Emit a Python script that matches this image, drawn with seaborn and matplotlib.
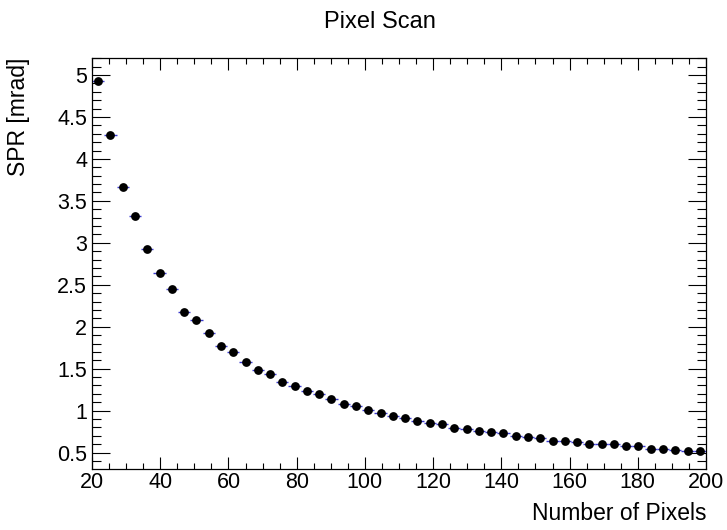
import matplotlib
matplotlib.use("Agg")
import matplotlib.pyplot as plt
import seaborn as sns
import pandas as pd
from matplotlib.ticker import MultipleLocator, FuncFormatter

# ---- data ----
n_pixels = [21.8, 25.4, 29.0, 32.6, 36.2, 39.8, 43.4, 47.0, 50.6, 54.2,
            57.8, 61.4, 65.0, 68.6, 72.2, 75.8, 79.4, 83.0, 86.6, 90.2,
            93.8, 97.4, 101.0, 104.6, 108.2, 111.8, 115.4, 119.0, 122.6, 126.2,
            129.8, 133.4, 137.0, 140.6, 144.2, 147.8, 151.4, 155.0, 158.6, 162.2,
            165.8, 169.4, 173.0, 176.6, 180.2, 183.8, 187.4, 191.0, 194.6, 198.2]
spr = [4.93, 4.285, 3.67, 3.32, 2.93, 2.64, 2.45, 2.18, 2.08, 1.93,
       1.774, 1.695, 1.58, 1.484, 1.436, 1.34, 1.297, 1.23, 1.198, 1.135,
       1.075, 1.051, 1.007, 0.967, 0.939, 0.908, 0.88, 0.852, 0.84, 0.796,
       0.781, 0.757, 0.741, 0.729, 0.70, 0.686, 0.67, 0.641, 0.641, 0.626,
       0.602, 0.602, 0.598, 0.574, 0.574, 0.546, 0.546, 0.53, 0.515, 0.515]
x_half_width = 1.8

title = "Pixel Scan"
xlabel = "Number of Pixels"
ylabel = "SPR [mrad]"

df = pd.DataFrame({"x": n_pixels, "y": spr})

sns.set_style("ticks")
plt.rcParams["font.family"] = ["Liberation Sans", "DejaVu Sans"]
plt.rcParams["text.color"] = "black"
plt.rcParams["axes.labelcolor"] = "black"
plt.rcParams["xtick.color"] = "black"
plt.rcParams["ytick.color"] = "black"
plt.rcParams["axes.edgecolor"] = "black"

fig = plt.figure(figsize=(7.27, 5.30), dpi=100)
L, R, B, T = 92 / 727, 706 / 727, 1 - 469 / 530, 1 - 57.7 / 530
ax = fig.add_axes([L, B, R - L, T - B])

ax.errorbar(df["x"], df["y"], xerr=x_half_width, fmt="none",
            ecolor="#3a3acc", elinewidth=1.0, capsize=0, zorder=2)
sns.scatterplot(data=df, x="x", y="y", ax=ax, color="black", s=40,
                edgecolor="black", linewidth=0, zorder=3, legend=False)

ax.set_xlim(20, 200)
ax.set_ylim(0.305, 5.206)

ax.xaxis.set_major_locator(MultipleLocator(20))
ax.xaxis.set_minor_locator(MultipleLocator(5))
ax.yaxis.set_major_locator(MultipleLocator(0.5))
ax.yaxis.set_minor_locator(MultipleLocator(0.1))
ax.yaxis.set_major_formatter(FuncFormatter(lambda v, p: "%g" % v))

for s in ax.spines.values():
    s.set_linewidth(0.9)
    s.set_color("black")
    s.set_visible(True)

ax.tick_params(axis="x", which="major", direction="in", length=8.6, width=0.8,
               top=True, bottom=True, labelsize=15.5, pad=2, colors="black")
ax.tick_params(axis="x", which="minor", direction="in", length=4.3, width=0.8,
               top=True, bottom=True, colors="black")
ax.tick_params(axis="y", which="major", direction="in", length=13, width=0.8,
               left=True, right=True, labelsize=15.5, pad=3.5, colors="black")
ax.tick_params(axis="y", which="minor", direction="in", length=6.5, width=0.8,
               left=True, right=True, colors="black")

ax.set_xlabel(xlabel, fontsize=16.5, loc="right", color="black")
ax.xaxis.label.set_va("center")
ax.xaxis.set_label_coords(1.0, (469 - 513) / 411.3)

ax.set_ylabel(ylabel, fontsize=16.5, loc="top", color="black")
ax.yaxis.label.set_va("center")
ax.yaxis.set_label_coords((18 - 92) / 614, 1.0)

fig.text(380 / 727, 1 - 21.5 / 530, title, ha="center", va="center",
         fontsize=17, color="black")

fig.savefig("out.png", dpi=100, facecolor="white")
